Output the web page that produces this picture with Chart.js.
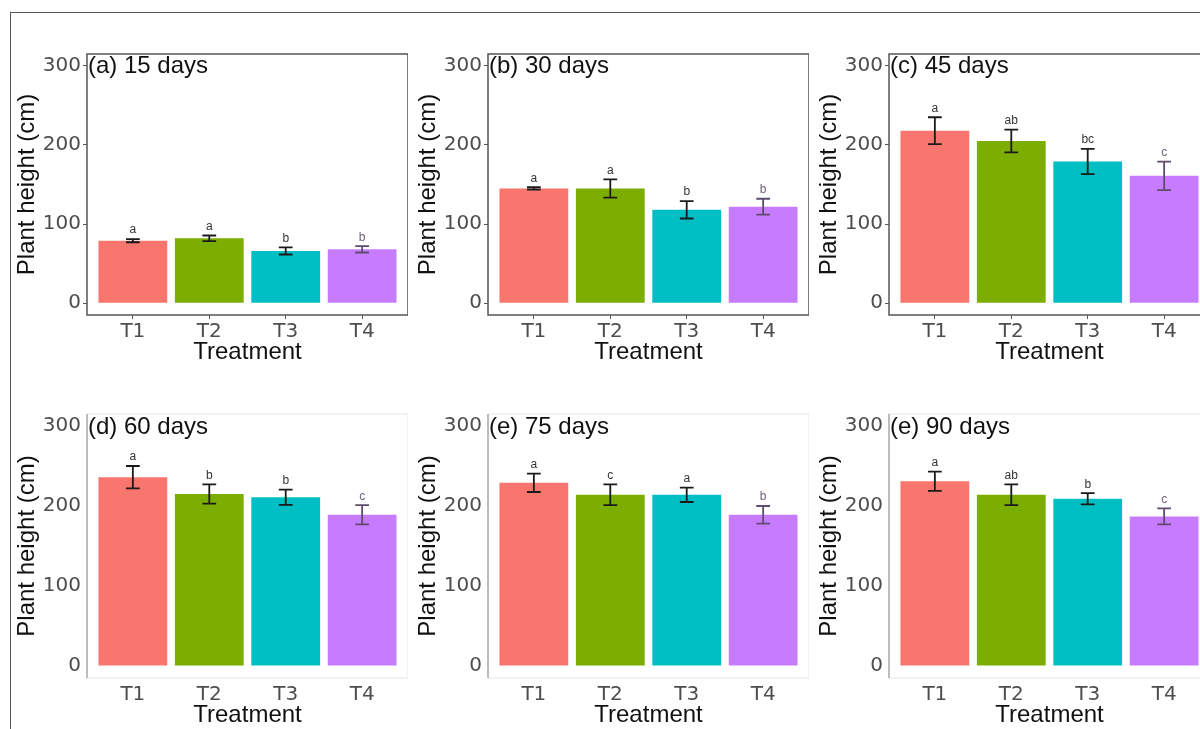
<!DOCTYPE html>
<html lang="en">
<head>
<meta charset="UTF-8" />
<title>Plant height by treatment</title>
<style>
  html, body {
    margin: 0;
    padding: 0;
    width: 1200px;
    height: 729px;
    overflow: hidden;
    background: #fff;
  }
  #sheet {
    position: absolute;
    left: 10px;
    top: 12px;
    width: 1300px;
    height: 800px;
    border-left: 1px solid #555;
    border-top: 1px solid #555;
  }
  canvas {
    position: absolute;
  }
</style>
</head>
<body>
<div id="sheet"></div>
<canvas id="p1" width="398" height="330" style="left:10px;top:40px"></canvas>
<canvas id="p2" width="398" height="330" style="left:411px;top:40px"></canvas>
<canvas id="p3" width="398" height="330" style="left:812px;top:40px"></canvas>
<canvas id="p4" width="398" height="333" style="left:10px;top:400px"></canvas>
<canvas id="p5" width="398" height="333" style="left:411px;top:400px"></canvas>
<canvas id="p6" width="398" height="333" style="left:812px;top:400px"></canvas>

<script src="https://cdn.jsdelivr.net/npm/chart.js"></script>
<script>
  // data (plant height, cm)
  const treatments = ['T1', 'T2', 'T3', 'T4'];
  const yTicks = [0, 100, 200, 300];
  const panelTitles = ['(a) 15 days', '(b) 30 days', '(c) 45 days', '(d) 60 days', '(e) 75 days', '(e) 90 days'];

  const height15 = [79, 82, 66, 68];
  const err15 = [2, 3.5, 4.5, 4];
  const letters15 = ['a', 'a', 'b', 'b'];

  const height30 = [145, 145, 118, 122];
  const err30 = [1.5, 11.5, 11, 10];
  const letters30 = ['a', 'a', 'b', 'b'];

  const height45 = [218, 205, 179, 161];
  const err45 = [17, 14.5, 16, 18];
  const letters45 = ['a', 'ab', 'bc', 'c'];

  const height60 = [236, 215, 211, 189];
  const err60 = [14, 12, 9.5, 12];
  const letters60 = ['a', 'b', 'b', 'c'];

  const height75 = [229, 214, 214, 189];
  const err75 = [11.5, 13, 9, 11];
  const letters75 = ['a', 'c', 'a', 'b'];

  const height90 = [231, 214, 209, 187];
  const err90 = [12, 13, 7, 10];
  const letters90 = ['a', 'ab', 'b', 'c'];

  const barColors = ['#F8766D', '#7CAE00', '#00BFC4', '#C77CFF'];
  const errColors = ['#1a1a1a', '#1a1a1a', '#1a1a1a', '#5e4b6e'];
  const textFont = "'Liberation Sans', Arial, sans-serif";
  const tickFont = "'DejaVu Sans', sans-serif";

  // frame, error bars, letters and the panel label
  const panelDecor = {
    id: 'panelDecor',
    afterDatasetsDraw(chart, args, opts) {
      const { ctx, chartArea: a, scales: { x, y } } = chart;
      ctx.save();
      if (opts.boxed) {
        ctx.strokeStyle = '#555';
        ctx.lineWidth = 1.5;
        ctx.strokeRect(a.left, a.top, a.right - a.left, a.bottom - a.top);
      } else {
        ctx.strokeStyle = '#e6e6e6';
        ctx.lineWidth = 1;
        ctx.strokeRect(a.left, a.top, a.right - a.left, a.bottom - a.top);
        ctx.strokeStyle = '#999';
        ctx.lineWidth = 1.2;
        ctx.beginPath();
        ctx.moveTo(a.left, a.top);
        ctx.lineTo(a.left, a.bottom);
        ctx.stroke();
      }

      const vals = chart.data.datasets[0].data;
      vals.forEach((p, i) => {
        const cx = x.getPixelForValue(p.x);
        const half = (x.getPixelForValue(p.x + 0.09) - cx);
        const top = y.getPixelForValue(p.y + opts.err[i]);
        const bot = y.getPixelForValue(p.y - opts.err[i]);
        ctx.strokeStyle = errColors[i];
        ctx.lineWidth = 1.8;
        ctx.beginPath();
        ctx.moveTo(cx, top); ctx.lineTo(cx, bot);
        ctx.moveTo(cx - half, top); ctx.lineTo(cx + half, top);
        ctx.moveTo(cx - half, bot); ctx.lineTo(cx + half, bot);
        ctx.stroke();

        ctx.fillStyle = errColors[i] === '#1a1a1a' ? '#333' : '#6e607a';
        ctx.font = '12px ' + textFont;
        ctx.textAlign = 'center';
        ctx.textBaseline = 'bottom';
        ctx.fillText(opts.letters[i], cx, top - 3);
      });

      ctx.fillStyle = '#111';
      ctx.font = '24px ' + textFont;
      ctx.textAlign = 'left';
      ctx.textBaseline = 'middle';
      ctx.fillText(opts.title, a.left + 1, y.getPixelForValue(300) + 1);
      ctx.restore();
    }
  };

  function makePanel(id, title, heights, errs, letters, boxed) {
    const pts = heights.map((h, i) => ({ x: i + 1, y: h }));
    new Chart(document.getElementById(id), {
      type: 'bar',
      data: {
        datasets: [{
          data: pts,
          backgroundColor: barColors,
          borderWidth: 0,
          barPercentage: 0.9,
          categoryPercentage: 1.0
        }]
      },
      plugins: [panelDecor],
      options: {
        responsive: false,
        animation: false,
        layout: { padding: { top: boxed ? 6 : 7, right: 0, bottom: 0, left: 0 } },
        scales: {
          x: {
            type: 'linear',
            min: 0.4,
            max: 4.6,
            offset: false,
            afterBuildTicks: s => { s.ticks = treatments.map((t, i) => ({ value: i + 1 })); },
            afterFit: s => { s.height = 55; },
            ticks: {
              autoSkip: false,
              maxRotation: 0,
              padding: 1,
              color: '#4d4d4d',
              font: { family: tickFont, size: 20 },
              callback: v => treatments[v - 1]
            },
            grid: {
              offset: false,
              drawOnChartArea: false,
              tickLength: 4,
              color: boxed ? '#555' : 'rgba(0,0,0,0)'
            },
            border: { display: false },
            title: {
              display: true,
              text: 'Treatment',
              color: '#111',
              font: { family: textFont, size: 24 },
              padding: { top: 0, bottom: 3 }
            }
          },
          y: {
            min: -15,
            max: 315,
            afterBuildTicks: s => { s.ticks = yTicks.map(v => ({ value: v })); },
            afterFit: s => { s.width = 77; },
            ticks: {
              padding: 2,
              color: '#4d4d4d',
              font: { family: tickFont, size: 20 }
            },
            grid: {
              drawOnChartArea: false,
              tickLength: 4,
              color: boxed ? '#555' : 'rgba(0,0,0,0)'
            },
            border: { display: false },
            title: {
              display: true,
              text: 'Plant height (cm)',
              color: '#111',
              font: { family: textFont, size: 24 },
              padding: { top: 3, bottom: 0 }
            }
          }
        },
        plugins: {
          legend: { display: false },
          tooltip: { enabled: false },
          panelDecor: { title: title, err: errs, letters: letters, boxed: boxed }
        }
      }
    });
  }

  makePanel('p1', panelTitles[0], height15, err15, letters15, true);
  makePanel('p2', panelTitles[1], height30, err30, letters30, true);
  makePanel('p3', panelTitles[2], height45, err45, letters45, true);
  makePanel('p4', panelTitles[3], height60, err60, letters60, false);
  makePanel('p5', panelTitles[4], height75, err75, letters75, false);
  makePanel('p6', panelTitles[5], height90, err90, letters90, false);
</script>
</body>
</html>
